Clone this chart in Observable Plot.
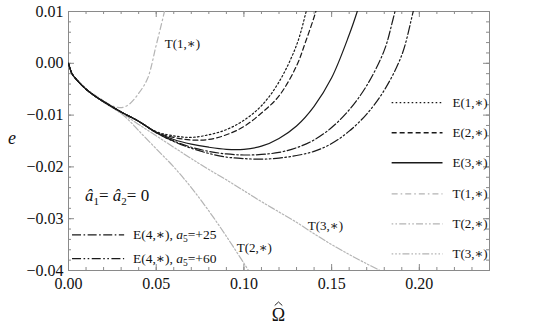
<!DOCTYPE html>
<html><head><meta charset="utf-8">
<script src="https://cdn.jsdelivr.net/npm/d3@7"></script>
<script src="https://cdn.jsdelivr.net/npm/@observablehq/plot@0.6"></script>
<style>body{margin:0;background:#fff} svg{display:block}</style>
</head><body><div id="chart"></div>
<script>
// ---- data ----
const startOmega = [0, 0.002, 0.005, 0.01, 0.015, 0.02, 0.03, 0.04];
const startE     = [0, -0.0020, -0.0033, -0.0050, -0.0063, -0.0074, -0.0094, -0.0112];

const e1Omega = [0.05,0.06,0.07,0.08,0.09,0.10,0.11,0.12,0.13,0.1355,0.14];
const e1E     = [-0.0132,-0.0140,-0.0143,-0.0138,-0.0128,-0.0110,-0.0082,-0.0036,0.0035,0.0100,0.0160];

const e2Omega = [0.05,0.06,0.07,0.08,0.09,0.10,0.11,0.12,0.13,0.135,0.141,0.145];
const e2E     = [-0.0133,-0.0143,-0.0148,-0.0147,-0.0138,-0.0122,-0.0096,-0.0063,-0.0005,0.0040,0.0100,0.0150];

const e3Omega = [0.05,0.06,0.07,0.08,0.09,0.10,0.11,0.12,0.13,0.14,0.15,0.16,0.1646,0.17];
const e3E     = [-0.0133,-0.0147,-0.0156,-0.0162,-0.0166,-0.0166,-0.0160,-0.0145,-0.0121,-0.0083,-0.0028,0.0055,0.0100,0.0160];

const e4aOmega = [0.05,0.06,0.07,0.08,0.09,0.10,0.11,0.12,0.13,0.14,0.15,0.16,0.17,0.18,0.185,0.19];
const e4aE     = [-0.0134,-0.0150,-0.0162,-0.0170,-0.0175,-0.0177,-0.0176,-0.0172,-0.0163,-0.0148,-0.0124,-0.0090,-0.0043,0.0025,0.0085,0.0155];

const e4bOmega = [0.05,0.06,0.07,0.08,0.09,0.10,0.11,0.12,0.13,0.14,0.15,0.16,0.17,0.18,0.19,0.1965,0.20];
const e4bE     = [-0.0134,-0.0151,-0.0164,-0.0174,-0.0181,-0.0184,-0.0185,-0.0183,-0.0178,-0.0170,-0.0155,-0.0131,-0.0098,-0.0052,0.0016,0.0100,0.0150];

const t1Omega = [0,0.002,0.005,0.01,0.015,0.02,0.025,0.028,0.031,0.035,0.04,0.045,0.05,0.0547,0.058];
const t1E     = [0,-0.0020,-0.0033,-0.0049,-0.0061,-0.0072,-0.0082,-0.0085,-0.0085,-0.0078,-0.0058,-0.0030,0.0035,0.0100,0.0150];

const t2Omega = [0,0.002,0.005,0.01,0.015,0.02,0.03,0.035,0.04,0.05,0.06,0.07,0.08,0.09,0.10,0.106];
const t2E     = [0,-0.0020,-0.0033,-0.0050,-0.0063,-0.0075,-0.0097,-0.0112,-0.0130,-0.0165,-0.0200,-0.0240,-0.0285,-0.0334,-0.0386,-0.0418];

const t3Omega = [0,0.002,0.005,0.01,0.015,0.02,0.03,0.04,0.05,0.06,0.07,0.08,0.09,0.10,0.11,0.12,0.13,0.14,0.15,0.16,0.17,0.18,0.185];
const t3E     = [0,-0.0020,-0.0033,-0.0050,-0.0063,-0.0075,-0.0096,-0.0118,-0.0140,-0.0162,-0.0184,-0.0205,-0.0225,-0.0246,-0.0267,-0.0287,-0.0307,-0.0329,-0.0350,-0.0369,-0.0387,-0.0404,-0.0412];

const xTicks = [0, 0.05, 0.10, 0.15, 0.20];
const yTicks = [-0.04, -0.03, -0.02, -0.01, 0.00, 0.01];
const xMinor = d3.range(0, 0.2401, 0.01);
const yMinor = d3.range(-0.04, 0.0101, 0.002);

const legendRight = ["E(1,∗)", "E(2,∗)", "E(3,∗)", "T(1,∗)", "T(2,∗)", "T(3,∗)"];
const legendLeftValues = ["+25", "+60"];

// ---- styles ----
const BLACK = "#1a1a1a", GRAY = "#b4b4b4";
const styles = {
  e1: {stroke: BLACK, dash: "1.6,2.4"},
  e2: {stroke: BLACK, dash: "5,3"},
  e3: {stroke: BLACK, dash: null},
  e4a: {stroke: BLACK, dash: "9,2.5,1.6,2.5"},
  e4b: {stroke: BLACK, dash: "9,2.5,1.6,2.5,1.6,2.5"},
  t1: {stroke: GRAY, dash: "6,3,1.6,3"},
  t2: {stroke: GRAY, dash: "1.6,2.2,1.6,2.2,7,2.2"},
  t3: {stroke: GRAY, dash: "1.6,2,1.6,2,1.6,2,7,2"}
};

const pts = (xs, ys) => xs.map((x, i) => ({x, y: ys[i]}));
const series = {
  e1: pts(startOmega.concat(e1Omega), startE.concat(e1E)),
  e2: pts(startOmega.concat(e2Omega), startE.concat(e2E)),
  e3: pts(startOmega.concat(e3Omega), startE.concat(e3E)),
  e4a: pts(startOmega.concat(e4aOmega), startE.concat(e4aE)),
  e4b: pts(startOmega.concat(e4bOmega), startE.concat(e4bE)),
  t1: pts(t1Omega, t1E),
  t2: pts(t2Omega, t2E),
  t3: pts(t3Omega, t3E)
};
const lineMark = k => Plot.line(series[k], {
  x: "x", y: "y", curve: "catmull-rom", clip: true,
  stroke: styles[k].stroke, strokeWidth: 1.2, strokeDasharray: styles[k].dash
});

const H = 334, MT = 11, MB = 64, ML = 68, MR = 67;
const PH = H - MT - MB, PW = 556 - ML - MR;
const fmt = d3.format(".2f");
const TICKC = "#8a8a8a";
const SERIF = "'Liberation Serif', 'DejaVu Serif', serif";

const plot = Plot.plot({
  width: 556, height: H,
  marginLeft: ML, marginRight: MR, marginTop: MT, marginBottom: MB,
  x: {domain: [0, 0.24]},
  y: {domain: [-0.04, 0.01]},
  style: {fontFamily: SERIF, fontSize: "16px", color: "#111", background: "#fff"},
  marks: [
    Plot.tickX(xMinor, {x: d => d, stroke: TICKC, insetTop: PH - 3}),
    Plot.tickX(xMinor, {x: d => d, stroke: TICKC, insetBottom: PH - 3}),
    Plot.tickX(xTicks, {x: d => d, stroke: TICKC, insetTop: PH - 6}),
    Plot.tickX(xTicks, {x: d => d, stroke: TICKC, insetBottom: PH - 6}),
    Plot.tickY(yMinor, {y: d => d, stroke: TICKC, insetRight: PW - 3}),
    Plot.tickY(yMinor, {y: d => d, stroke: TICKC, insetLeft: PW - 3}),
    Plot.tickY(yTicks, {y: d => d, stroke: TICKC, insetRight: PW - 6}),
    Plot.tickY(yTicks, {y: d => d, stroke: TICKC, insetLeft: PW - 6}),
    Plot.frame({stroke: TICKC, strokeWidth: 1}),
    Plot.axisX({ticks: xTicks, tickSize: 0, tickPadding: 7, tickFormat: fmt, label: null,
                fontFamily: SERIF, fontSize: 16, fontVariant: "normal"}),
    Plot.axisY({ticks: yTicks, tickSize: 0, tickPadding: 5, tickFormat: fmt, label: null,
                fontFamily: SERIF, fontSize: 16, fontVariant: "normal"}),
    lineMark("t3"), lineMark("t2"), lineMark("t1"),
    lineMark("e4b"), lineMark("e4a"), lineMark("e3"), lineMark("e2"), lineMark("e1")
  ]
});
document.getElementById("chart").appendChild(plot);

// ---- annotations, legend ----
const X = plot.scale("x").apply, Y = plot.scale("y").apply;
const svg = d3.select(plot);
const g = svg.append("g").attr("font-family", SERIF).attr("fill", "#111").attr("text-anchor", "start");

// axis labels
g.append("text").attr("x", 12).attr("y", 144).attr("font-size", 18).attr("font-style", "italic")
  .attr("text-anchor", "middle").text("e");
const ox = X(0.12);
g.append("text").attr("x", ox).attr("y", 321).attr("font-size", 18).attr("text-anchor", "middle").text("Ω");
g.append("path").attr("d", `M${ox - 3.8},${305.5}L${ox},${302}L${ox + 3.8},${305.5}`)
  .attr("fill", "none").attr("stroke", "#111").attr("stroke-width", 0.9);

// curve labels
const lab = (t, x, y) => g.append("text").attr("x", X(x)).attr("y", Y(y)).attr("font-size", 13).text(t);
lab("T(1,∗)", 0.0552, 0.0029);
lab("T(2,∗)", 0.0962, -0.0365);
lab("T(3,∗)", 0.1367, -0.0322);

// â1 = â2 = 0
const ann = g.append("text").attr("x", X(0.0097)).attr("y", Y(-0.0266)).attr("font-size", 17);
ann.append("tspan").attr("font-style", "italic").text("â");
ann.append("tspan").attr("font-size", 11).attr("dy", 4).text("1");
ann.append("tspan").attr("dy", -4).text("= ");
ann.append("tspan").attr("font-style", "italic").text("â");
ann.append("tspan").attr("font-size", 11).attr("dy", 4).text("2");
ann.append("tspan").attr("dy", -4).text("= 0");

// right legend
const rightKeys = ["e1", "e2", "e3", "t1", "t2", "t3"];
const rightYs = [-0.0077, -0.0135, -0.0193, -0.0253, -0.0311, -0.0369];
rightKeys.forEach((k, i) => {
  const yy = Y(rightYs[i]);
  g.append("line").attr("x1", X(0.1845)).attr("x2", X(0.2135)).attr("y1", yy).attr("y2", yy)
    .attr("stroke", styles[k].stroke).attr("stroke-width", 1.3).attr("stroke-dasharray", styles[k].dash);
  g.append("text").attr("x", X(0.2192)).attr("y", yy + 4.5).attr("font-size", 13).text(legendRight[i]);
});

// left legend
const leftKeys = ["e4a", "e4b"];
const leftYs = [-0.0332, -0.0378];
leftKeys.forEach((k, i) => {
  const yy = Y(leftYs[i]);
  g.append("line").attr("x1", X(0.0023)).attr("x2", X(0.032)).attr("y1", yy).attr("y2", yy)
    .attr("stroke", styles[k].stroke).attr("stroke-width", 1.3).attr("stroke-dasharray", styles[k].dash);
  const t = g.append("text").attr("x", X(0.037)).attr("y", yy + 4.5).attr("font-size", 13.5);
  t.append("tspan").text("E(4,∗), ");
  t.append("tspan").attr("font-style", "italic").text("a");
  t.append("tspan").attr("font-size", 9.5).attr("dy", 3).text("5");
  t.append("tspan").attr("dy", -3).text("=" + legendLeftValues[i]);
});
</script>
</body></html>
